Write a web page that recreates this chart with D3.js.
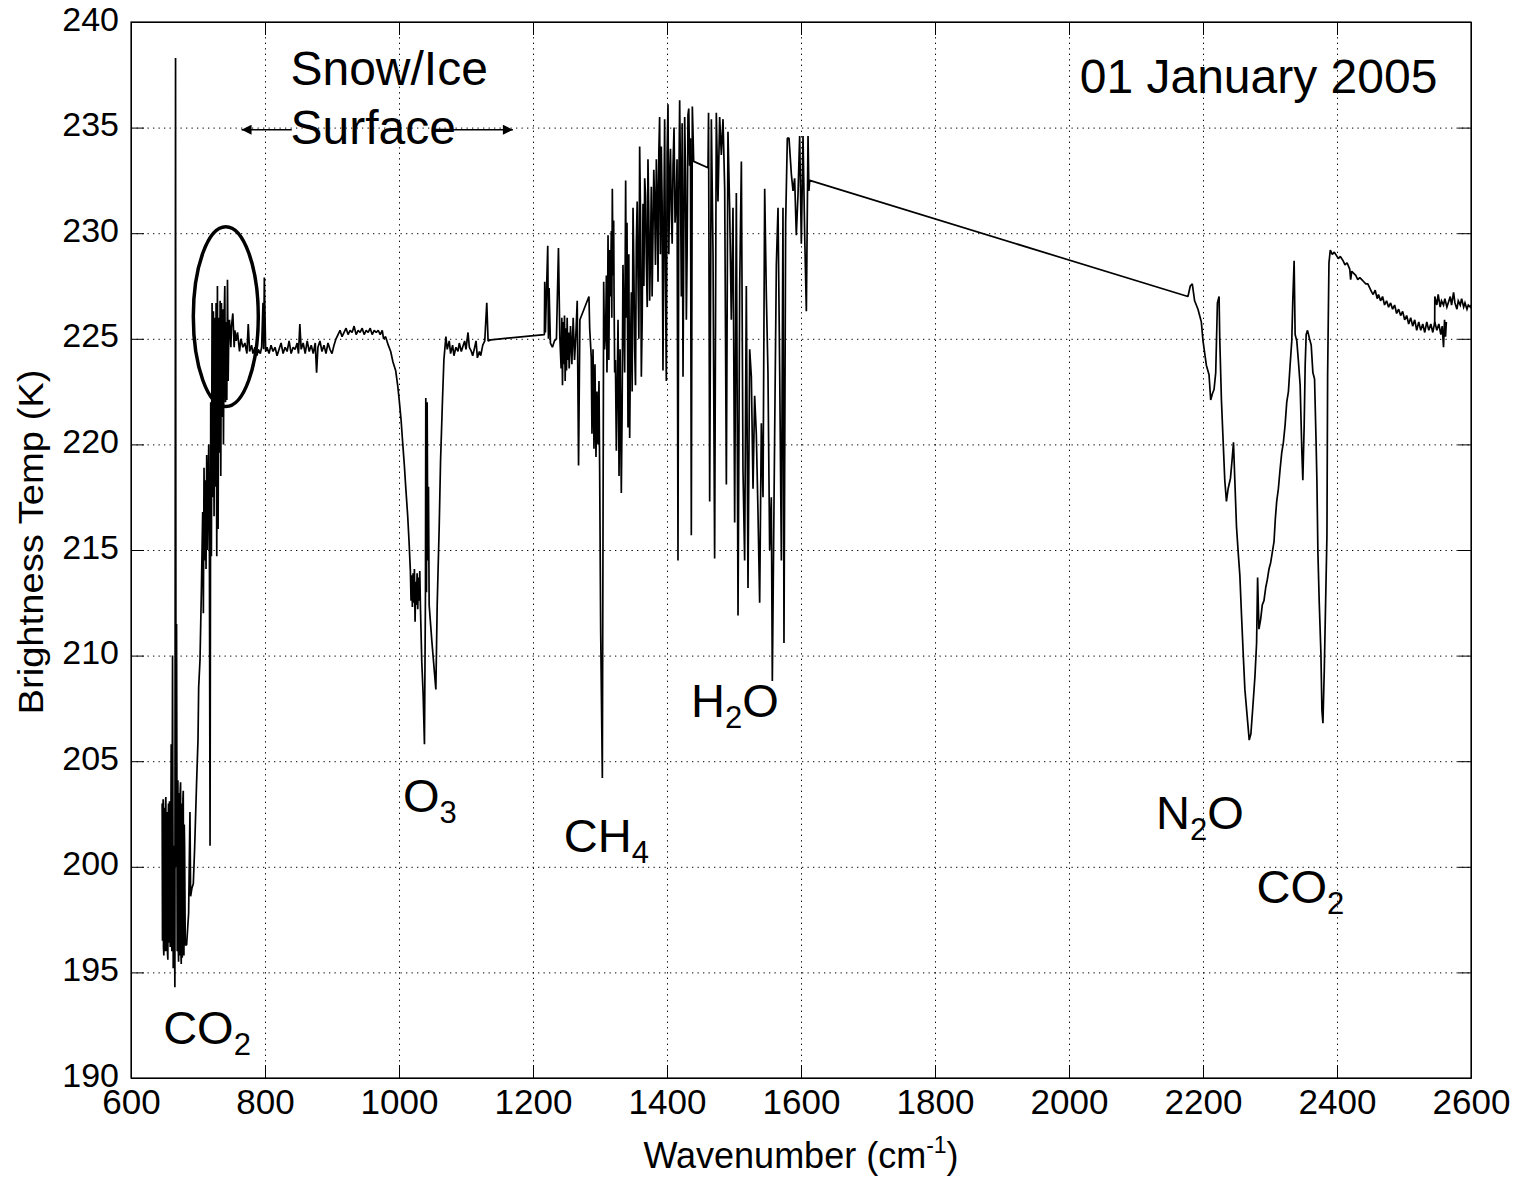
<!DOCTYPE html>
<html>
<head>
<meta charset="utf-8">
<script src="https://cdn.jsdelivr.net/npm/d3@7"></script>
<style>
  html, body { margin: 0; padding: 0; background: #fff; }
  svg { display: block; }
  text { font-family: "Liberation Sans", Arial, Helvetica, sans-serif; fill: #000; }
</style>
</head>
<body>
<svg id="chart" width="1516" height="1179"></svg>
<script>
// ---------------- DATA ----------------
const xTickLabels = [600, 800, 1000, 1200, 1400, 1600, 1800, 2000, 2200, 2400, 2600];
const yTickLabels = [190, 195, 200, 205, 210, 215, 220, 225, 230, 235, 240];

// [wavenumber (cm-1), brightness temperature (K)]
const co2Band = [
  [646.5,203.0],[647,196.5],[647.5,202.4],[648,203.2],[648.5,196.2],[649,195.8],[649.5,202.8],[650,202.5],
  [650.5,196.0],[651,196.8],[651.5,203.0],[652,203.3],[652.5,196.6],[653,196.0],[653.5,202.6],[654,201.5],
  [654.5,195.9],[655,195.6],[655.5,202.2],[656,203.0],[656.5,196.8],[657,196.4],[657.5,203.1],[658,202.0],
  [658.5,196.2],[659,197.0],[660,205.8],[661,196.0],[662,210.0],[663,195.2],[664,201.0],[665.5,194.3],
  [666.5,238.3],[667.2,200.0],[668,211.5],[669,196.0],[669.5,203.0],[670,204.1],[670.5,196.3],[671,195.5],
  [671.5,202.8],[672,203.5],[672.5,195.8],[673,196.2],[673.5,203.6],[674,204.0],[674.5,196.0],[675,195.4],
  [675.5,202.7],[676,203.0],[676.5,195.7],[677,196.5],[677.5,203.2],[678,203.6],[678.5,196.6],[679,195.8],
  [679.5,202.0],[680,201.0],[681,196.3],[683,196.3],[686,197.8],[688,202.6],[689,198.6],
  [691,199.0],[693,199.2],[695,200.9],[698,204.1],[700,206.0],[701,208.5],[703,209.8],[705,213.0],
  [707,216.8],[708,212.0],[709,218.9],[710,214.5],[711,218.3],[712,214.1],[713,219.5],[714,215.0],
  [716,220.0],[717,215.5],[718,201.0],[719,222.0],[720,214.7],[721,226.7],[722,217.5],[723,226.3],
  [724,216.6],[725,226.0],[726,218.0],[727,226.7],[728,214.7],[729,227.5],[730,216.0],[731,226.0],
  [732,219.6],[733,226.8],[734,218.5],[735,226.7],[736,221.3],[737,226.4],[738,220.0],[739,226.0],
  [740,227.5],[741,222.0],[742,225.8],[743,222.1],[744,227.8],[745,223.0],[746,225.5],[747,225.9],
  [749,224.6],[750,225.6],[752,226.2],[754,224.6],[755,225.4],[757,224.9],[759,225.3],[762,224.4],
  [764,225.0],[767,224.6],[770,224.8],[773,224.3],[775,225.7],[777,224.4],[780,224.7],[782,224.3],
  [785,224.6],[788,224.2],[790,224.5],[793,224.3],[795,224.6],[797,226.7],[798,224.5],[799,227.9],
  [801,224.4]
];

const windowRegion = [
  [803,224.6],[806,224.3],[809,224.7],[812,224.4],[815,224.6],[818,224.2],[821,224.5],[824,224.8],
  [827,224.3],[830,224.6],[833,224.4],[836,224.9],[839,224.3],[842,224.6],[845,224.5],[848,224.8],
  [850,224.3],[852,225.7],[854,224.5],[857,224.8],[860,224.3],[863,224.9],[866,224.4],[869,224.7],
  [872,224.3],[875,224.8],[877,223.4],[879,224.6],[882,224.9],[885,224.4],[888,224.7],[891,224.3],
  [894,224.8],[897,224.5],[900,224.3],[903,224.7],[906,225.0],[909,225.2],[912,225.4],[915,225.1],
  [918,225.3],[921,225.5],[924,225.2],[927,225.4],[930,225.3],[933,225.6],[936,225.2],[939,225.4],
  [942,225.3],[945,225.5],[948,225.2],[951,225.4],[954,225.3],[957,225.5],[960,225.2],[963,225.4],
  [966,225.3],[969,225.4],[972,225.2],[975,225.4],[977,225.0],[980,225.1],[984,224.7],[987.6,224.4],
  [991,223.9],[995,223.5],[998,222.8],[1000,222.2],[1003,221.2],[1005,220.3],[1008,219.0],[1010,218.0],
  [1013,216.6],[1015,215.4]
];

const ozoneBand = [
  [1017,214.0],[1018,212.6],[1019,213.8],[1020,212.3],[1021,213.9],[1022,212.5],[1023,214.1],[1024,211.6],
  [1025,213.5],[1026,212.4],[1027,213.9],[1028,212.2],[1029,213.7],[1030,212.6],[1031,214.0],[1032,212.3],
  [1034,209.7],[1036,208.2],[1038,205.8],[1039.5,213.0],[1040,222.2],[1041,213.0],[1042,222.0],[1043,214.5],
  [1044,218.0],[1045,212.4],[1049,210.7],[1055,208.4],[1057,212.4],[1060,216.1],[1062,219.2],[1065,222.2],
  [1067,224.0],[1070,225.1],[1072,224.5],[1075,224.9],[1077,224.3],[1080,224.7],[1082,224.2],[1085,224.6],
  [1088,224.4],[1090,224.8],[1093,224.4],[1095,224.6],[1098,224.9],[1100,224.5],[1103,225.3],[1105,224.6],
  [1108,224.4],[1110,224.2],[1113,224.6],[1115,224.9],[1117,224.1],[1120,224.4],[1122,224.2],[1125,224.7],
  [1128,224.9],[1131,226.7],[1133,224.9],[1137,224.95]
];

const waterBand = [
  [1217,225.2],[1217.5,227.7],[1218.5,225.3],[1222,229.4],[1223,225.0],[1224,227.4],[1226,224.8],[1229,224.6],
  [1232,224.9],[1235,225.0],[1238,229.3],[1240,225.1],[1242,223.6],[1243,226.0],[1244,222.8],[1245,225.8],
  [1246,223.8],[1247,226.1],[1248,223.0],[1249,225.5],[1250,223.5],[1251,226.0],[1252,224.0],[1253,225.3],
  [1254,223.6],[1256,225.6],[1258,223.8],[1260,226.0],[1262,224.0],[1264,225.2],[1266,226.8],[1268,219.0],
  [1270,225.9],[1283.5,227.0],[1284.6,225.5],[1287,224.1],[1288,220.5],[1289.6,224.5],[1291,219.8],
  [1292.5,223.8],[1294,219.4],[1295.5,222.5],[1297,220.0],[1298.5,223.0],[1299.5,218.8],[1301,211.2],
  [1303.5,204.2],[1305.5,227.7],[1308.5,225.5],[1310.4,223.4],[1312,229.9],[1314.4,229.2],[1316.9,230.1],
  [1318.4,232.1],[1320.4,230.6],[1321.9,223.4],[1324.4,219.7],[1326.9,225.9],[1328.4,218.5],[1331.8,217.7],
  [1334.3,228.5],[1336.8,223.4],[1338.3,232.5],[1340.3,230.5],[1341.8,220.8],[1344.3,220.3],[1346.8,227.2],
  [1349.3,231.2],[1351.7,224.6],[1354.2,229.5],[1356.7,228.0],[1359.2,234.1],[1361.7,223.2],[1364.2,231.4],
  [1366.7,232.6],[1369.2,228.6],[1371.6,233.5],[1374.1,226.8],[1376.6,232.2],[1379.1,230.1],[1381.6,231.4],
  [1384.1,233.5],[1386.6,227.7],[1389,235.5],[1391.5,234.1],[1394,223.5],[1396.5,235.4],[1399,223.0],
  [1401.5,236.1],[1404,232.5],[1406.5,231.0],[1409,233.2],[1413.9,231.7],[1416.4,214.5],[1418.9,236.3],
  [1421.4,227.0],[1423.9,223.2],[1426.4,235.5],[1428.9,225.9],[1431.3,235.6],[1433.8,233.2],[1436.3,215.7],
  [1437.8,236.0],[1439.8,233.4],[1461.2,233.1],[1462,235.7],[1463.7,217.3],[1466.2,235.4],[1468.7,229.0],
  [1471.1,214.6],[1473.6,235.7],[1476.1,231.5],[1478.6,235.5],[1481.1,233.7],[1483.6,235.4],[1486.1,232.1],
  [1488.6,218.1],[1491,234.8],[1493.5,231.2],[1496,225.9],[1498.5,231.2],[1501,216.3],[1503.5,231.9],
  [1506,211.9],[1508.5,227.5],[1511,233.4],[1513.4,218.8],[1515.9,214.5],[1518.4,227.5],[1520.9,213.2],
  [1523.4,224.5],[1525.9,223.2],[1528.4,217.9],[1530.8,222.3],[1533.3,220.5],[1535.8,216.8],[1538.3,212.5],
  [1540.8,221.0],[1543.3,217.5],[1545.8,232.1],[1548.3,227.0],[1550.7,223.4],[1553.2,215.0],[1555.7,217.5],
  [1557.2,208.8],[1560.7,220.5],[1563.2,228.5],[1565.7,231.2],[1568.2,223.4],[1570.7,214.5],[1573.1,231.2],
  [1574.6,210.6],[1577.1,230.5],[1579.6,234.5],[1582.1,234.5],[1585.6,232.8],[1588.1,232.0],[1590.5,232.6],
  [1593,229.9],[1595.5,231.8],[1598,234.6],[1600.5,229.5],[1603,234.6],[1605.5,229.9],[1608,226.3],
  [1610.5,234.6],[1611.8,232.0],[1613,232.5]
];

// extra fine lines read from the densest (solid black) parts of the water band
const waterBandDetail = [
  [1306.8,224.5],[1309.5,228.0],[1311.2,226.0],[1313.2,224.0],[1315.6,227.0],[1317.6,226.0],[1319.4,228.0],
  [1321,227.0],[1323,224.0],[1325.6,222.5],[1327.6,223.0],[1330,224.5],[1333,221.5],[1335.5,226.0],
  [1337.5,228.0],[1339.3,226.0],[1343,229.0],[1345.5,224.5],[1348,222.5],[1350.5,228.5],[1353,222.8],
  [1355.5,231.5],[1358,225.0],[1360.5,230.8],[1363,226.0],[1365.5,227.5],[1368,231.8],[1370.5,226.5],
  [1372.8,231.0],[1375.3,229.0],[1377.8,227.0],[1380.3,233.0],[1382.8,228.5],[1385.3,231.8],[1387.8,233.8],
  [1390.2,229.0],[1392.7,231.5],[1395.2,230.0],[1397.7,228.0],[1400.2,233.8],[1402.7,229.0],[1405.2,234.0],
  [1407.7,229.5],[1410.5,235.0],[1412,230.5],[1415,233.5],[1417.6,232.0],[1420,233.0],[1422.6,235.2],
  [1425,229.5],[1427.6,232.8],[1430,229.0],[1432.5,235.9],[1435,234.5],[1438.8,234.8]
];

const n2oCo2Band = [
  [2177.5,227.0],[2181,227.5],[2184,227.6],[2187.5,226.8],[2192.5,226.4],[2197.5,225.8],[2200,224.9],
  [2205,223.75],[2209,223.3],[2211.5,222.1],[2214,222.4],[2216.5,222.6],[2219,223.4],[2221.5,226.7],
  [2224,227.0],[2225,225.0],[2227.5,222.1],[2230,220.2],[2232.5,218.3],[2235,217.3],[2237.5,217.9],
  [2241,218.4],[2243.5,219.3],[2245.5,220.1],[2247.5,218.3],[2250,216.1],[2252.5,214.9],[2255,213.8],
  [2257.5,211.9],[2260,210.1],[2262.5,208.4],[2266,207.1],[2269,206.0],[2271.5,206.3],[2274,207.4],
  [2277.5,209.0],[2280,210.6],[2281.5,213.7],[2283.5,211.25],[2286,211.7],[2288.5,212.4],[2291,212.6],
  [2293.5,213.2],[2296,213.6],[2298.5,214.1],[2301,214.4],[2303.5,214.9],[2306,215.4],[2308,216.5],
  [2310,217.3],[2312.5,217.9],[2315,218.8],[2317.5,219.6],[2320,220.1],[2322.5,220.9],[2325,222.0],
  [2327.5,222.5],[2330,223.75],[2332.5,224.9],[2334,226.8],[2336,228.7],[2337.5,225.2],[2340,224.9],
  [2342.5,223.9],[2345,222.8],[2347.5,219.7],[2349,218.3],[2351,220.9],[2352.5,223.75],[2354,225.2],
  [2356,225.4],[2359,225.0],[2361.5,224.7],[2364,223.4],[2366.5,223.1],[2368.5,220.5],[2370,218.3],
  [2371.5,214.9],[2373.5,212.5],[2376,210.1],[2377.5,207.4],[2379,206.8],[2381,209.3],[2383,212.5],
  [2385,215.7],[2386,223.3],[2388,228.6],[2390,229.2],[2393,229.0],[2396,229.1],[2399,228.95],[2402,228.8],
  [2405,228.9],[2409,228.7],[2412,228.5],[2415,228.6],[2419,228.3],[2420.4,227.8],[2422,228.2],[2425,228.1],
  [2428,228.0],[2431,227.8],[2434,227.9],[2437,227.8],[2440,227.7],[2443,227.6],[2446,227.6],[2449,227.4],
  [2452,227.2],[2454,227.1],[2457,227.3],[2460,226.9],[2462,227.1],[2465,226.8],[2468,227.0],[2471,226.6],
  [2474,226.8],[2477,226.5],[2480,226.7],[2483,226.4],[2486,226.6],[2489,226.2],[2492,226.4],[2495,226.1],
  [2498,226.3],[2501,225.9],[2504,226.1],[2507,225.7],[2510,226.0],[2513,225.6],[2516,225.9],[2519,225.4],
  [2522,225.8],[2525,225.4],[2528,225.7],[2531,225.3],[2534,225.8],[2537,225.4],[2540,225.7],[2543,225.3],
  [2546,225.8],[2549,225.4],[2552,225.7],[2555,225.2],[2557,225.6],[2559,224.6],[2560.5,225.9],[2562,225.1],
  [2563.2,225.8]
];

const tailBand = [
  [2545.8,225.7],[2546,227.0],[2549,226.6],[2551,227.1],[2554,226.5],[2556,226.8],[2559,226.6],[2561,226.9],
  [2564,226.5],[2566,226.7],[2569,227.0],[2571,226.6],[2574,227.2],[2576,226.7],[2579,226.4],[2581,226.8],
  [2584,226.6],[2586,226.9],[2589,226.5],[2591,226.7],[2594,226.4],[2596,226.6],[2599,226.5],[2600,226.6]
];

// gas labels: [text, subscript, trailing text, wavenumber, K]
const gasLabels = [
  ["CO", "2", "", 648, 191.6],
  ["O", "3", "", 1006, 202.6],
  ["CH", "4", "", 1246, 200.7],
  ["H", "2", "O", 1436, 207.1],
  ["N", "2", "O", 2130, 201.8],
  ["CO", "2", "", 2280, 198.3]
];

// ---------------- CHART ----------------
const svg = d3.select("#chart");
const L = 131, R = 1471, T = 22, B = 1078;
const x = d3.scaleLinear().domain([600, 2600]).range([L, R]);
const y = d3.scaleLinear().domain([190, 240]).range([B, T]);

// grid
const gridX = xTickLabels.slice(1, -1), gridY = yTickLabels.slice(1, -1);
svg.append("g").attr("transform", `translate(0,${B})`)
  .call(d3.axisBottom(x).tickValues(gridX).tickSize(-(B - T)).tickFormat(""))
  .call(g => g.select(".domain").remove())
  .selectAll("line").attr("stroke", "#000").attr("stroke-width", 1).attr("stroke-dasharray", "1.3,4.2");
svg.append("g").attr("transform", `translate(${L},0)`)
  .call(d3.axisLeft(y).tickValues(gridY).tickSize(-(R - L)).tickFormat(""))
  .call(g => g.select(".domain").remove())
  .selectAll("line").attr("stroke", "#000").attr("stroke-width", 1).attr("stroke-dasharray", "1.3,4.2");

// data line
const line = d3.line().x(d => x(d[0])).y(d => y(d[1]));
const waterAll = waterBand.concat(waterBandDetail).sort((a, b) => a[0] - b[0]);
const mainSeries = [].concat(co2Band, windowRegion, ozoneBand, waterAll, n2oCo2Band);
svg.append("path").datum(mainSeries).attr("d", line)
  .attr("fill", "none").attr("stroke", "#000").attr("stroke-width", 1.7).attr("stroke-linejoin", "bevel");
svg.append("path").datum(tailBand).attr("d", line)
  .attr("fill", "none").attr("stroke", "#000").attr("stroke-width", 1.7);

// axes (ticks inside, box)
const ax = svg.append("g").attr("transform", `translate(0,${B})`)
  .call(d3.axisBottom(x).tickValues(xTickLabels).tickSizeInner(-13).tickSizeOuter(0).tickPadding(11).tickFormat(d3.format("d")));
ax.selectAll("text").attr("font-size", 35).attr("font-family", "Liberation Sans, Arial");
const ay = svg.append("g").attr("transform", `translate(${L},0)`)
  .call(d3.axisLeft(y).tickValues(yTickLabels).tickSizeInner(-13).tickSizeOuter(0).tickPadding(12).tickFormat(d3.format("d")));
ay.selectAll("text").attr("font-size", 34).attr("dy", "0.24em").attr("font-family", "Liberation Sans, Arial");
svg.append("g").attr("transform", `translate(0,${T})`)
  .call(d3.axisTop(x).tickValues(xTickLabels).tickSizeInner(-13).tickSizeOuter(0).tickFormat(""));
svg.append("g").attr("transform", `translate(${R},0)`)
  .call(d3.axisRight(y).tickValues(yTickLabels).tickSizeInner(-13).tickSizeOuter(0).tickFormat(""));
svg.selectAll(".tick line").filter(function(){ return !this.getAttribute("stroke-dasharray"); })
  .attr("stroke", "#000");
svg.append("rect").attr("x", L).attr("y", T).attr("width", R - L).attr("height", B - T)
  .attr("fill", "none").attr("stroke", "#000").attr("stroke-width", 1.2);

// axis titles
const xt = svg.append("text").attr("x", (L + R) / 2).attr("y", 1168).attr("text-anchor", "middle").attr("font-size", 36);
xt.append("tspan").text("Wavenumber (cm");
xt.append("tspan").attr("font-size", 23).attr("dy", -15).text("-1");
xt.append("tspan").attr("dy", 15).text(")");
svg.append("text").attr("transform", `translate(43,542) rotate(-90)`)
  .attr("text-anchor", "middle").attr("font-size", 35)
  .attr("textLength", 345).attr("lengthAdjust", "spacingAndGlyphs").text("Brightness Temp (K)");

// gas labels
const big = 47, sub = 31;
gasLabels.forEach(([t, s, tail, wn, k]) => {
  const tx = svg.append("text").attr("x", x(wn)).attr("y", y(k)).attr("font-size", big);
  tx.append("tspan").text(t);
  tx.append("tspan").attr("font-size", sub).attr("dy", 11).text(s);
  if (tail) tx.append("tspan").attr("dy", -11).text(tail);
});

// date and surface annotation
svg.append("text").attr("x", x(2016)).attr("y", y(236.64)).attr("font-size", 48).text("01 January 2005");
svg.append("text").attr("x", x(838)).attr("y", y(237.0)).attr("font-size", 48).text("Snow/Ice");
svg.append("text").attr("x", x(838)).attr("y", y(234.2)).attr("font-size", 48).text("Surface");

const defs = svg.append("defs");
defs.append("marker").attr("id", "ah").attr("viewBox", "0 0 10 10").attr("refX", 10).attr("refY", 5)
  .attr("markerWidth", 15).attr("markerHeight", 10).attr("markerUnits", "userSpaceOnUse").attr("orient", "auto")
  .append("path").attr("d", "M0,0 L10,5 L0,10 Z").attr("fill", "#000");
svg.append("line").attr("x1", x(840)).attr("x2", x(765)).attr("y1", y(234.9)).attr("y2", y(234.9))
  .attr("stroke", "#000").attr("stroke-width", 1.5).attr("marker-end", "url(#ah)");
svg.append("line").attr("x1", x(1080)).attr("x2", x(1170)).attr("y1", y(234.9)).attr("y2", y(234.9))
  .attr("stroke", "#000").attr("stroke-width", 1.5).attr("marker-end", "url(#ah)");

// ellipse around the CO2 window edge
const ecx = 741.5, ecy = 226.05;
svg.append("ellipse").attr("cx", x(ecx)).attr("cy", y(ecy))
  .attr("rx", x(ecx + 48.5) - x(ecx)).attr("ry", y(ecy - 4.26) - y(ecy))
  .attr("fill", "none").attr("stroke", "#000").attr("stroke-width", 3.5);
</script>
</body>
</html>
